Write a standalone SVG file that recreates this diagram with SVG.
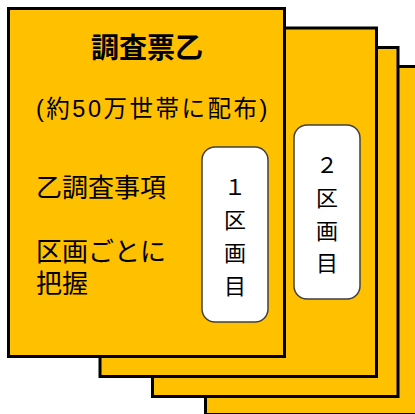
<svg xmlns="http://www.w3.org/2000/svg" width="415" height="414" viewBox="0 0 415 414">
<style>
.card{fill:#FFC000;stroke:#000;stroke-width:3}
.pill{fill:#fff;stroke:#404040;stroke-width:1.5}
text{font-family:"Liberation Sans","Noto Sans CJK JP","Noto Sans CJK SC",sans-serif;fill:#000}
.title{font-size:28px;font-weight:bold;text-anchor:middle}
.sub{font-size:23.5px;letter-spacing:2.5px}
.body{font-size:26px}
.pt{font-size:22px;text-anchor:middle}
</style>
<rect width="415" height="414" fill="#fff"/>
<g id="card4"><rect class="card" x="205.5" y="66.5" width="276" height="348"/></g>
<g id="card3"><rect class="card" x="152.5" y="47.5" width="245.5" height="349"/></g>
<g id="card2">
<rect class="card" x="100" y="28" width="276.5" height="348.5"/>
<rect class="pill" x="294" y="125" width="66" height="174" rx="13"/>
<text class="pt" x="327" y="173">２</text>
<text class="pt" x="327" y="206">区</text>
<text class="pt" x="327" y="239">画</text>
<text class="pt" x="327" y="271">目</text>
</g>
<g id="card1">
<rect class="card" x="8.5" y="8.5" width="276" height="348"/>
<text class="title" x="147" y="58">調査票乙</text>
<text class="sub" x="36" y="117">(約50万世帯に配布)</text>
<text class="body" x="36" y="197">乙調査事項</text>
<text class="body" x="36" y="261">区画ごとに</text>
<text class="body" x="36" y="293">把握</text>
<rect class="pill" x="202" y="147" width="66" height="175" rx="13"/>
<text class="pt" x="235" y="195">１</text>
<text class="pt" x="235" y="228">区</text>
<text class="pt" x="235" y="261">画</text>
<text class="pt" x="235" y="294">目</text>
</g>
<g id="connectors"></g>
</svg>
